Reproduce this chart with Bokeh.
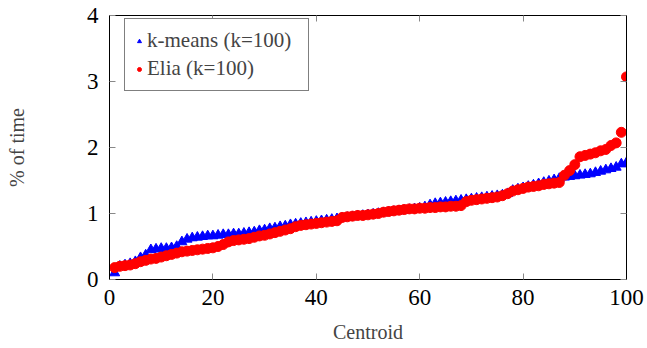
from bokeh.plotting import figure
from bokeh.models import LinearAxis, FixedTicker, Range1d, Legend, LegendItem
from bokeh.embed import file_html
from bokeh.resources import INLINE

centroid = list(range(1, 101))
kmeans = [0.10, 0.20, 0.22, 0.24, 0.27, 0.33, 0.37, 0.45, 0.46, 0.47,
          0.47, 0.48, 0.50, 0.57, 0.61, 0.63, 0.64, 0.65, 0.66, 0.66,
          0.67, 0.68, 0.68, 0.69, 0.69, 0.70, 0.71, 0.72, 0.74, 0.75,
          0.77, 0.78, 0.80, 0.81, 0.83, 0.84, 0.85, 0.86, 0.87, 0.88,
          0.89, 0.90, 0.91, 0.92, 0.93, 0.94, 0.95, 0.96, 0.97, 0.98,
          0.99, 1.00, 1.01, 1.02, 1.03, 1.04, 1.05, 1.06, 1.07, 1.08,
          1.10, 1.13, 1.15, 1.16, 1.17, 1.18, 1.19, 1.20, 1.21, 1.22,
          1.23, 1.24, 1.25, 1.26, 1.27, 1.28, 1.30, 1.35, 1.37, 1.39,
          1.41, 1.43, 1.45, 1.47, 1.49, 1.51, 1.53, 1.55, 1.56, 1.57,
          1.58, 1.59, 1.60, 1.62, 1.64, 1.66, 1.68, 1.70, 1.75, 1.77]
elia = [0.18, 0.20, 0.21, 0.22, 0.24, 0.27, 0.29, 0.31, 0.32, 0.34,
        0.36, 0.38, 0.40, 0.42, 0.43, 0.44, 0.45, 0.46, 0.47, 0.48,
        0.50, 0.53, 0.57, 0.59, 0.60, 0.61, 0.62, 0.64, 0.66, 0.67,
        0.69, 0.71, 0.73, 0.75, 0.77, 0.80, 0.82, 0.83, 0.84, 0.85,
        0.86, 0.87, 0.88, 0.89, 0.94, 0.95, 0.96, 0.97, 0.97, 0.98,
        0.99, 1.00, 1.02, 1.03, 1.04, 1.05, 1.06, 1.07, 1.07, 1.08,
        1.08, 1.09, 1.09, 1.10, 1.10, 1.11, 1.11, 1.12, 1.18, 1.20,
        1.21, 1.22, 1.23, 1.24, 1.25, 1.27, 1.30, 1.34, 1.36, 1.38,
        1.40, 1.41, 1.42, 1.44, 1.45, 1.46, 1.47, 1.58, 1.65, 1.74,
        1.86, 1.88, 1.90, 1.92, 1.95, 1.97, 2.03, 2.07, 2.23, 3.07]
x_ticks = [0, 20, 40, 60, 80, 100]
y_ticks = [0, 1, 2, 3, 4]
series_names = ["k-means (k=100)", "Elia (k=100)"]

FONT = "Liberation Serif"
TICK_COLOR = "#888888"

p = figure(width=647, height=348, x_range=Range1d(0, 100), y_range=Range1d(0, 4),
           output_backend="svg", toolbar_location=None,
           min_border_left=109, min_border_right=21, min_border_top=15, min_border_bottom=69)
p.xgrid.visible = False
p.ygrid.visible = False
p.outline_line_color = "black"
p.outline_line_width = 1
p.background_fill_color = "white"
p.border_fill_color = "white"

def style_axis(ax, ticks, show_labels=True):
    ax.ticker = FixedTicker(ticks=ticks)
    ax.major_tick_in = 6
    ax.major_tick_out = 0
    ax.minor_tick_in = 0
    ax.minor_tick_out = 0
    ax.major_tick_line_color = TICK_COLOR
    ax.major_tick_line_width = 1
    ax.axis_line_color = "black"
    ax.axis_line_width = 1
    ax.major_label_text_font = FONT
    ax.major_label_text_font_size = "23px" if show_labels else "0px"
    ax.major_label_text_color = "black"
    if not show_labels:
        ax.major_label_standoff = 0
        ax.major_label_overrides = {t: "" for t in ticks}

style_axis(p.xaxis[0], x_ticks)
style_axis(p.yaxis[0], y_ticks)
p.xaxis[0].major_label_standoff = 10
p.yaxis[0].major_label_standoff = 11

p.xaxis[0].axis_label = "Centroid"
p.xaxis[0].axis_label_text_font = FONT
p.xaxis[0].axis_label_text_font_size = "20px"
p.xaxis[0].axis_label_text_font_style = "normal"
p.xaxis[0].axis_label_standoff = 13

p.yaxis[0].axis_label = "% of time"
p.yaxis[0].axis_label_text_font = FONT
p.yaxis[0].axis_label_text_font_size = "20px"
p.yaxis[0].axis_label_text_font_style = "normal"
p.yaxis[0].axis_label_standoff = 56

top = LinearAxis()
style_axis(top, x_ticks, show_labels=False)
p.add_layout(top, "above")
right = LinearAxis()
style_axis(right, y_ticks, show_labels=False)
p.add_layout(right, "right")

r1 = p.scatter(centroid, kmeans, marker="triangle", size=10, color="blue")
r2 = p.scatter(centroid, elia, marker="circle", size=10, color="red")

legend = Legend(items=[LegendItem(label=series_names[0], renderers=[r1]),
                       LegendItem(label=series_names[1], renderers=[r2])],
                location=(15, 188))
legend.label_text_font = FONT
legend.label_text_font_size = "21px"
legend.border_line_color = "black"
legend.border_line_width = 1
legend.margin = 0
legend.padding = 9
legend.spacing = 3
legend.glyph_width = 10
legend.glyph_height = 24
legend.label_height = 24
legend.label_width = 152
legend.label_standoff = 3
legend.background_fill_alpha = 1
p.add_layout(legend)

open("out.html", "w").write(file_html(p, INLINE))
